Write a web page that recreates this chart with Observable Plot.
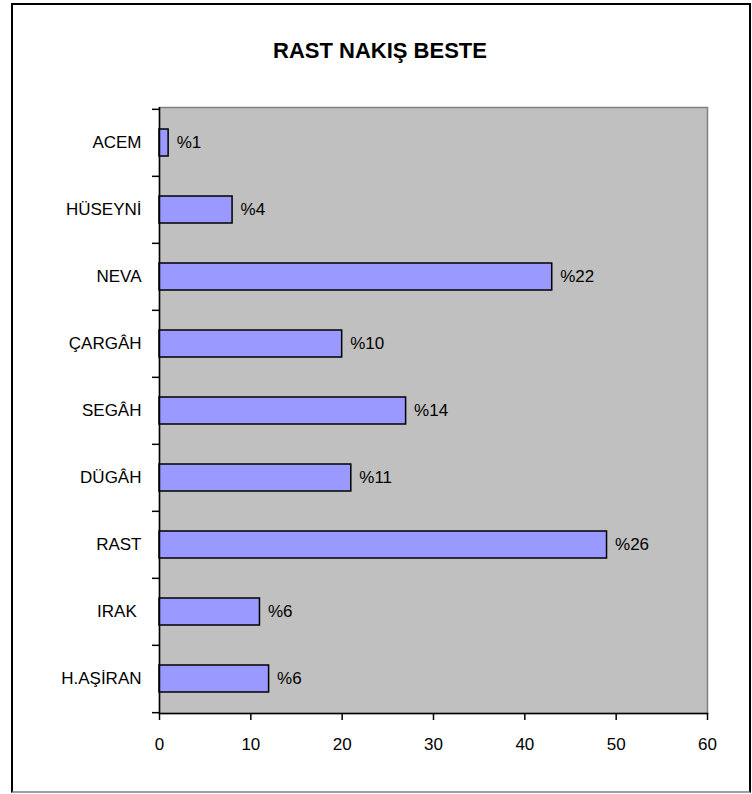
<!DOCTYPE html>
<html>
<head>
<meta charset="utf-8">
<script src="https://cdn.jsdelivr.net/npm/d3@7"></script>
<script src="https://cdn.jsdelivr.net/npm/@observablehq/plot@0.6"></script>
<style>
  html, body { margin: 0; padding: 0; background: #fff; }
  body { width: 752px; height: 794px; position: relative; overflow: hidden; font-family: "Liberation Sans", Arial, sans-serif; }
  #frame { position: absolute; left: 11px; top: 3px; width: 736px; height: 786px;
           border-left: 2px solid #000; border-top: 2px solid #000; border-right: 2px solid #000; border-bottom: 2px solid #a0a0a0; }
  #title { position: absolute; left: 0; top: 40px; width: 760px; text-align: center;
           font-weight: bold; font-size: 22px; line-height: 22px; color: #000; }
  #chart { position: absolute; left: 13px; top: 75px; }
</style>
</head>
<body>
<div id="frame"></div>
<div id="title">RAST NAKIŞ BESTE</div>
<div id="chart"></div>
<script>
const categories = ["ACEM", "HÜSEYNİ", "NEVA", "ÇARGÂH", "SEGÂH", "DÜGÂH", "RAST", "IRAK ", "H.AŞİRAN"];
const values = [1, 8, 43, 20, 27, 21, 49, 11, 12];
const percentLabels = ["%1", "%4", "%22", "%10", "%14", "%11", "%26", "%6", "%6"];
const xTicks = [0, 10, 20, 30, 40, 50, 60];

const data = categories.map((c, i) => ({cat: c, value: values[i], label: percentLabels[i]}));

const width = 736, height = 705;
const marginTop = 32, marginBottom = 67, marginLeft = 146, marginRight = 42;
const step = (height - marginTop - marginBottom) / categories.length;
const font = "Liberation Sans, Arial, sans-serif";

const chart = Plot.plot({
  width, height, marginTop, marginBottom, marginLeft, marginRight,
  style: {fontFamily: font, fontSize: "17px", color: "#000", background: "transparent"},
  x: {domain: [0, 60], ticks: xTicks},
  y: {domain: categories, paddingInner: 0.6, paddingOuter: 0.3},
  marks: [
    Plot.frame({fill: "#c0c0c0", stroke: "#808080", strokeWidth: 1.5}),
    Plot.barX(data, {x: "value", y: "cat", fill: "#9999ff", stroke: "#000", strokeWidth: 1.5}),
    Plot.text(data, {x: "value", y: "cat", text: "label", textAnchor: "start", dx: 8, fontSize: 17, fill: "#000"}),
    // y axis line & category labels
    Plot.ruleX([0], {stroke: "#000", strokeWidth: 1.5}),
    Plot.axisY({tickSize: 0, tickPadding: 18, fontSize: 17, label: null}),
    // y ticks between categories (Excel style)
    Plot.axisY(categories, {tickSize: 7, dy: -step / 2, tickFormat: () => "", label: null, stroke: "#000", strokeWidth: 1.5}),
    Plot.axisY([categories[categories.length - 1]], {tickSize: 7, dy: step / 2, tickFormat: () => "", label: null, stroke: "#000", strokeWidth: 1.5}),
    // x axis
    Plot.frame({anchor: "bottom", stroke: "#000", strokeWidth: 1.5}),
    Plot.axisX({ticks: xTicks, tickSize: 7, tickPadding: 17, fontSize: 17, label: null, strokeWidth: 1.5})
  ]
});
document.getElementById("chart").appendChild(chart);
</script>
</body>
</html>
